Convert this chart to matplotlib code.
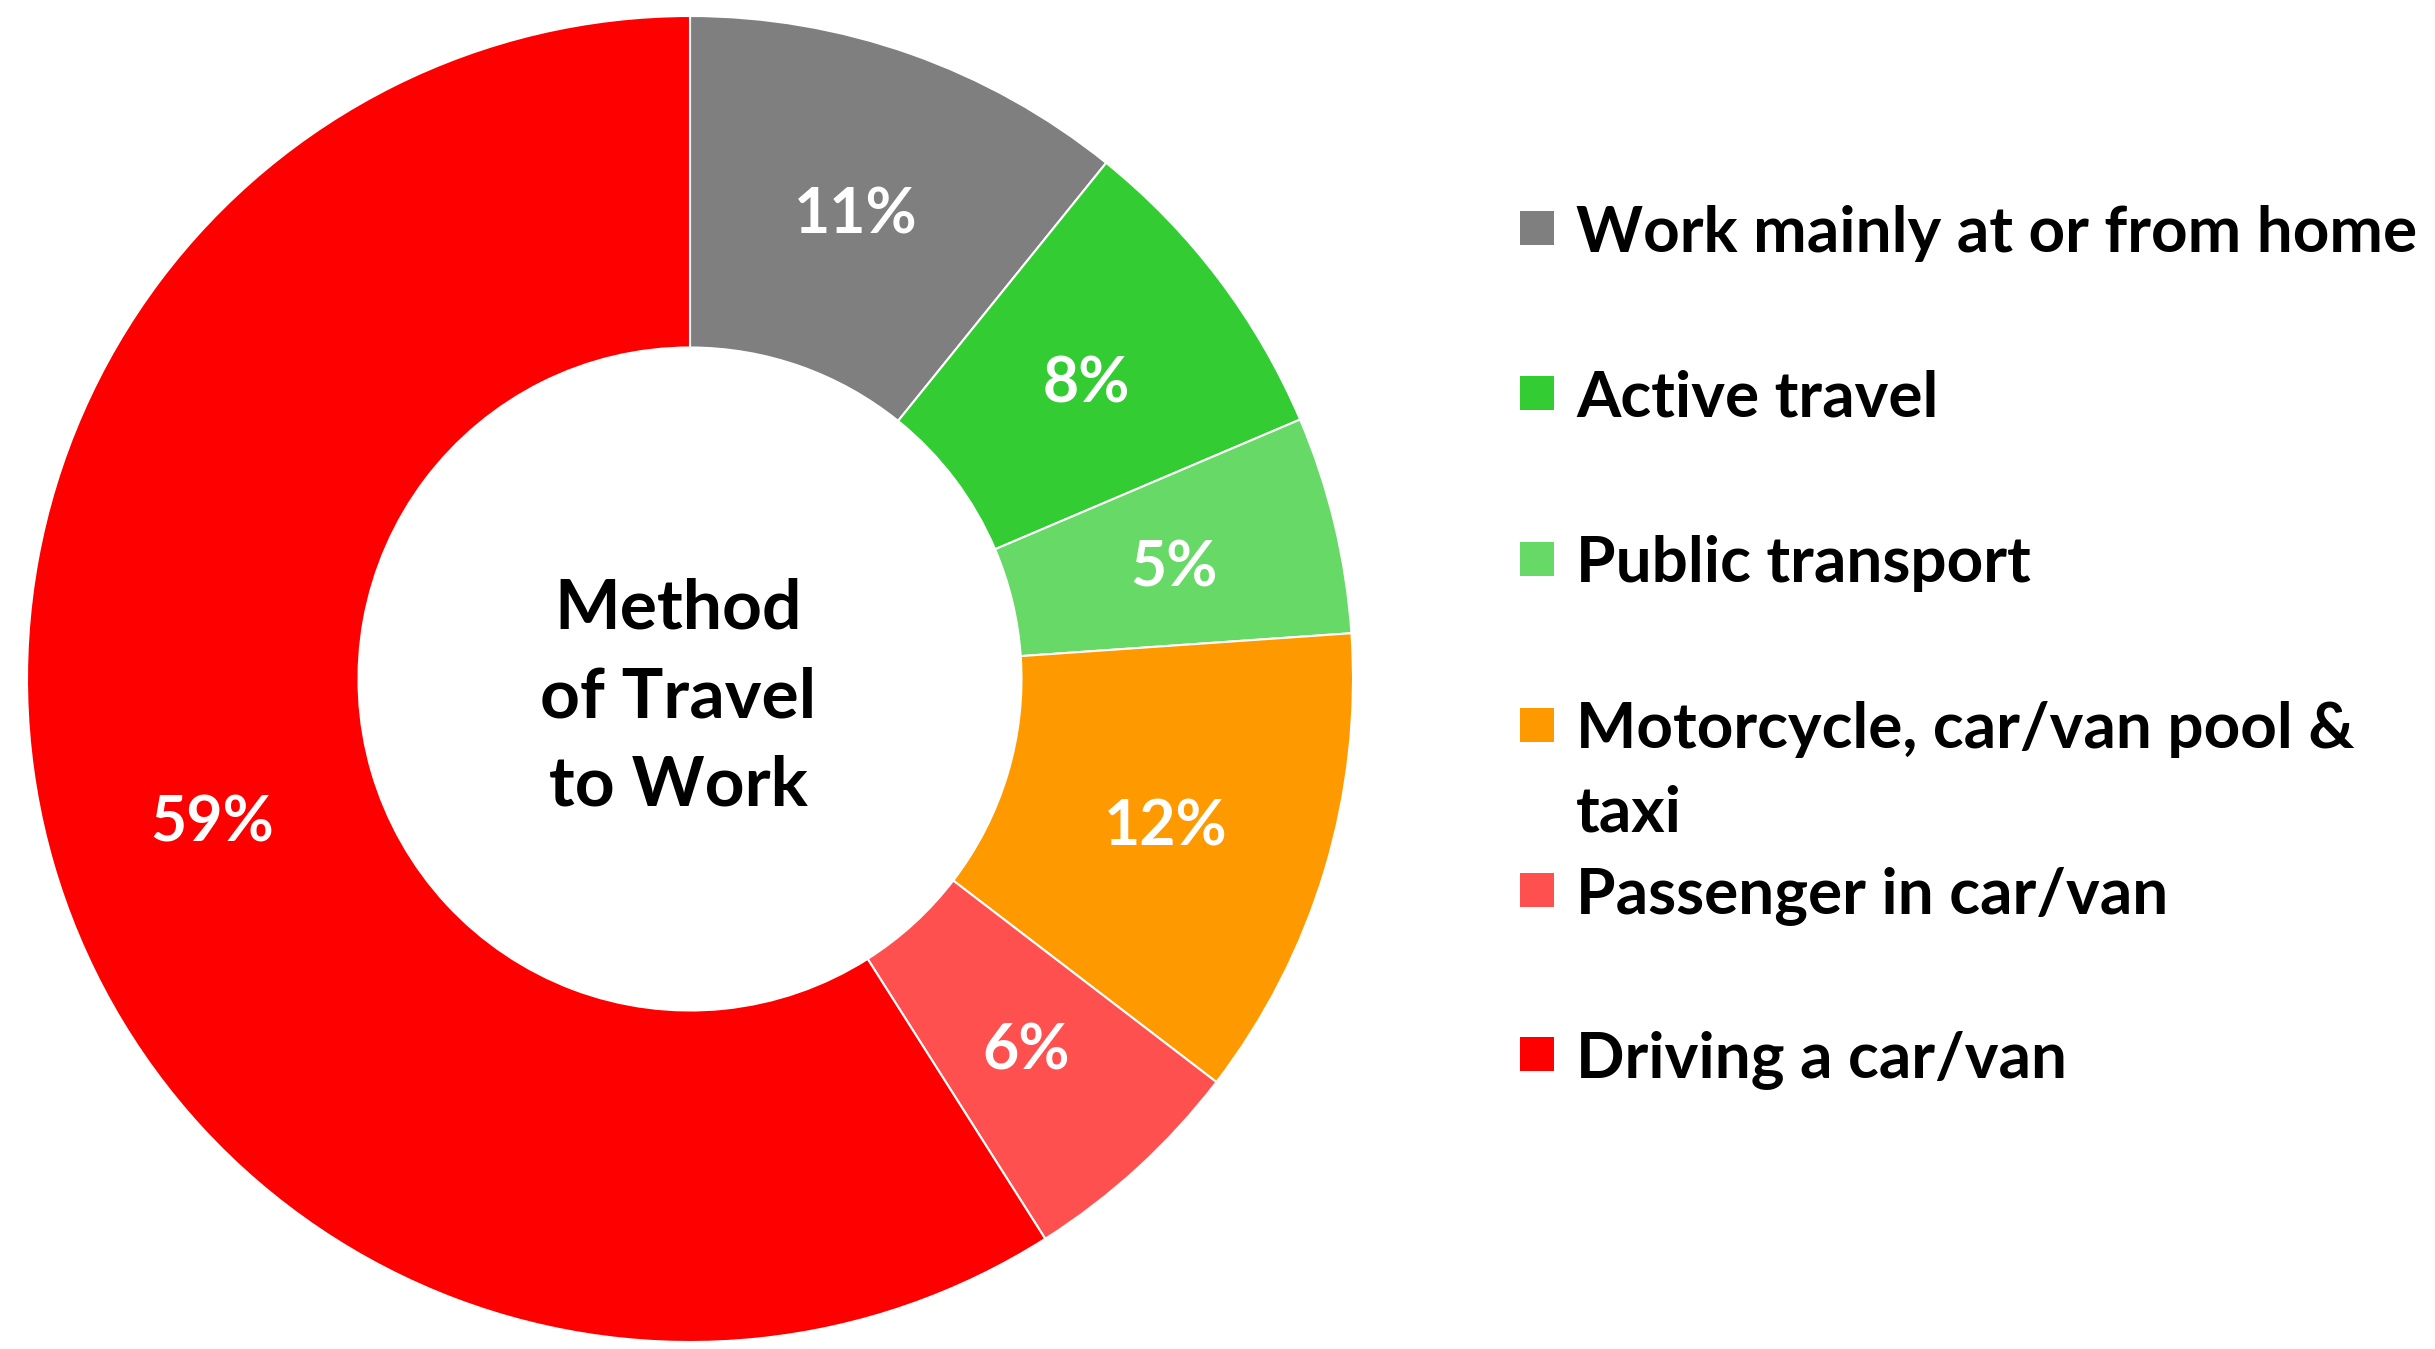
import matplotlib
matplotlib.use("Agg")
import matplotlib.pyplot as plt
from matplotlib.patches import Rectangle

categories = ["Work mainly at or from home", "Active travel", "Public transport",
              "Motorcycle, car/van pool &\ntaxi", "Passenger in car/van", "Driving a car/van"]
values = [10.8, 7.8, 5.3, 11.5, 5.6, 59.0]
colors = ["#7F7F7F", "#33CC33", "#66D966", "#FF9900", "#FF5050", "#FF0000"]
center_label = "Method\nof Travel\nto Work"

W, H = 2435, 1349
fig = plt.figure(figsize=(W / 100, H / 100), dpi=100)
fig.patch.set_facecolor("white")

cx, cy, R = 690, 679, 663
ax = fig.add_axes([(cx - R) / W, (H - cy - R) / H, 2 * R / W, 2 * R / H])
wedges, texts, autotexts = ax.pie(
    values, colors=colors, startangle=90, counterclock=False, radius=1,
    wedgeprops=dict(width=0.5, edgecolor="white", linewidth=1.5),
    autopct=lambda p: f"{p:.0f}%", pctdistance=0.75,
    textprops=dict(color="white", fontsize=45, fontweight="bold", family="Lato"))
for t in autotexts:
    t.set_va("center_baseline")
ax.set_xlim(-1, 1)
ax.set_ylim(-1, 1)
ax.set_aspect("equal")
ax.axis("off")

ax.text(-0.018, -0.028, center_label, ha="center", va="center", fontsize=50,
        fontweight="bold", family="Lato", color="black", linespacing=1.5)

# legend (manual)
rows_y = [228, 393, 559, 725, 890, 1054]
line_gap = 83
msize = 34
for c, lab, y in zip(colors, categories, rows_y):
    fig.patches.append(Rectangle((1520 / W, (H - y - msize / 2) / H), msize / W, msize / H,
                                 transform=fig.transFigure, facecolor=c, edgecolor="none"))
    for i, line in enumerate(lab.split("\n")):
        fig.text(1576 / W, (H - y - i * line_gap) / H, line, ha="left", va="center_baseline",
                 fontsize=46, fontweight="bold", family="Lato", color="black")

fig.savefig("out.png", dpi=100, facecolor="white")
